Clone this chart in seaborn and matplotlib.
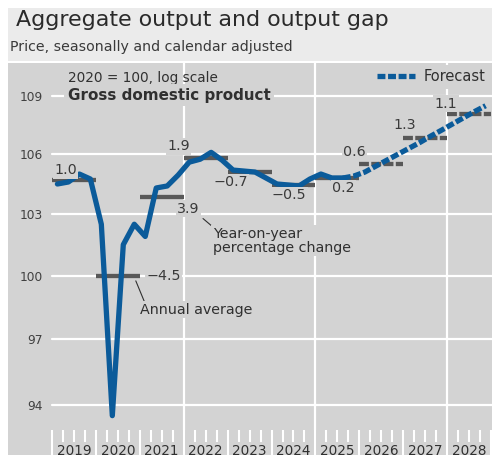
import numpy as np
import pandas as pd
import matplotlib
matplotlib.use("Agg")
import matplotlib.pyplot as plt
from matplotlib.patches import Rectangle
from matplotlib.ticker import NullLocator, NullFormatter, FixedLocator
import seaborn as sns

# ---------------- data ----------------
years = list(range(2019, 2029))
# quarterly GDP index (2020 = 100), 2019Q1 .. 2025Q3
gdp_actual = [104.5, 104.6, 105.0, 104.75,
              102.5, 93.5, 101.5, 102.5,
              101.9, 104.3, 104.4, 104.95,
              105.6, 105.75, 106.1, 105.7,
              105.2, 105.15, 105.1, 104.8,
              104.5, 104.45, 104.4, 104.75,
              105.0, 104.8, 104.8]
# forecast, 2025Q3 .. 2028Q4
gdp_forecast = [104.8, 104.9,
                105.1, 105.4, 105.7, 106.0,
                106.3, 106.6, 106.93, 107.24,
                107.56, 107.88, 108.2, 108.5]
annual_avg = [104.7, 100.0, 103.85, 105.8, 105.1, 104.45, 104.8, 105.5, 106.83, 108.06]
annual_change = ["1.0", "\u22124.5", "3.9", "1.9", "\u22120.7", "\u22120.5", "0.2", "0.6", "1.3", "1.1"]
first_forecast_year = 2026
y_ticks = [94, 97, 100, 103, 106, 109]

# ---------------- style ----------------
BLUE = "#0b5b9a"
GREY_BAR = "#585858"
PLOT_BG = "#d3d3d3"
BAND_BG = "#ebebeb"
TXT = "#2a2a2a"

sns.set_theme(style="white")
plt.rcParams['font.family'] = ['DejaVu Sans']

W, H = 503, 463
fig = plt.figure(figsize=(W / 100, H / 100), dpi=100)
fig.patch.set_facecolor("white")
fig.patches.append(Rectangle((8 / W, 1 - 61 / H), 484 / W, 53 / H,
                             transform=fig.transFigure, facecolor=BAND_BG,
                             edgecolor="none", zorder=0))
fig.text(16 / W, 1 - 20 / H, "Aggregate output and output gap", fontsize=15.9,
         color=TXT, va="center", ha="left")
fig.text(10 / W, 1 - 47 / H, "Price, seasonally and calendar adjusted", fontsize=10.2,
         color="#3a3a3a", va="center", ha="left")

ax = fig.add_axes([8 / W, 8 / H, 484 / W, 392 / H])
ax.set_facecolor(PLOT_BG)
for s in ax.spines.values():
    s.set_visible(False)
ax.set_yscale("log")

# ---------------- frames ----------------
q_pos = [y + (q - 0.5) / 4 for y in years for q in range(1, 5)]
n_act = len(gdp_actual)
df_act = pd.DataFrame({"t": q_pos[:n_act], "gdp": gdp_actual})
df_fc = pd.DataFrame({"t": q_pos[n_act - 1:n_act - 1 + len(gdp_forecast)], "gdp": gdp_forecast})

# ---------------- grid ----------------
for v in y_ticks:
    ax.axhline(v, xmin=0.091, xmax=1.0, color="white", lw=1.6, zorder=1)
for yv in [2022, 2025, 2028]:
    ax.axvline(yv, ymin=0.064, ymax=1.0, color="white", lw=1.6, zorder=1)

# ---------------- annual averages ----------------
for yr, avg in zip(years, annual_avg):
    if yr >= first_forecast_year:
        ax.plot([yr, yr + 1], [avg, avg], color=GREY_BAR, lw=3.1,
                linestyle=(0, (2.3, 0.55)), solid_capstyle="butt",
                dash_capstyle="butt", zorder=3)
    else:
        ax.plot([yr, yr + 1], [avg, avg], color=GREY_BAR, lw=3.1,
                solid_capstyle="butt", zorder=3)

# ---------------- GDP lines ----------------
sns.lineplot(data=df_act, x="t", y="gdp", ax=ax, color=BLUE, lw=3.8,
             solid_joinstyle="round", solid_capstyle="round", zorder=4)
sns.lineplot(data=df_fc, x="t", y="gdp", ax=ax, color=BLUE, lw=3.8,
             label="Forecast", zorder=4)
fc_line = ax.lines[-1]
fc_line.set_dashes([1.5, 0.5])
fc_line.set_dash_capstyle("butt")

# ---------------- axes ----------------
ax.set_xlim(2018.0, 2029.02)
ax.set_ylim(91.75, 110.75)
ax.set_xlabel("")
ax.set_ylabel("")
ax.yaxis.set_major_locator(FixedLocator(y_ticks))
ax.yaxis.set_minor_locator(NullLocator())
ax.yaxis.set_minor_formatter(NullFormatter())
ax.set_yticklabels([str(v) for v in y_ticks])
ax.tick_params(axis="y", which="both", length=0, pad=-25, labelsize=8.8,
               labelcolor="#404040")
ax.spines["bottom"].set_position(("axes", 0.0638))
ax.set_xticks(list(range(2019, 2030)))
ax.set_xticklabels([])
ax.set_xticks([y + q / 4 for y in years for q in range(1, 4)], minor=True)
ax.tick_params(axis="x", which="both", bottom=True, top=False, direction="out",
               color="white", width=1.5)
ax.tick_params(axis="x", which="major", length=19)
ax.tick_params(axis="x", which="minor", length=8.6)
for yr in years:
    ax.text(yr + 0.5, 0.011, str(yr), transform=ax.get_xaxis_transform(),
            ha="center", va="center", fontsize=9.8, color="#303030", zorder=5)

# ---------------- labels ----------------
FS = 10.3
box = dict(facecolor=PLOT_BG, edgecolor="none", pad=1.0)
label_pos = {  # (x, y) of label left edge / centre
    2019: (2019.05, 105.2), 2020: (2021.15, 100.0), 2021: (2021.85, 103.27),
    2022: (2021.62, 106.4), 2023: (2022.67, 104.6), 2024: (2024.01, 103.93),
    2025: (2025.38, 104.28), 2026: (2025.63, 106.1), 2027: (2026.77, 107.49),
    2028: (2027.72, 108.6),
}
for yr, lab in zip(years, annual_change):
    lx, ly = label_pos[yr]
    ax.text(lx, ly, lab, ha="left", va="center", fontsize=FS, color="#3a3a3a",
            bbox=box, zorder=5)

ax.text(2019.36, 109.95, "2020 = 100, log scale", ha="left", va="center",
        fontsize=9.8, color="#303030", zorder=5)
ax.text(2019.36, 109.05, "Gross domestic product", ha="left", va="center",
        fontsize=10.9, fontweight="bold", color="#303030",
        bbox=dict(facecolor=PLOT_BG, edgecolor="none", pad=2.5), zorder=5)

ax.annotate("Annual average", xy=(2020.91, 99.75), xytext=(2021.0, 98.38),
            ha="left", va="center", fontsize=FS, color="#303030",
            arrowprops=dict(arrowstyle="-", color="#303030", lw=0.8,
                            shrinkA=0, shrinkB=0, relpos=(0.05, 0.9)),
            bbox=dict(facecolor=PLOT_BG, edgecolor="none", pad=1.0), zorder=5)
ax.annotate("Year-on-year\npercentage change", xy=(2022.44, 102.78),
            xytext=(2022.66, 101.69), ha="left", va="center", fontsize=FS,
            color="#303030", linespacing=1.0,
            arrowprops=dict(arrowstyle="-", color="#303030", lw=0.8,
                            shrinkA=0, shrinkB=0, relpos=(0.0, 1.0)),
            bbox=dict(facecolor=PLOT_BG, edgecolor="none", pad=1.0), zorder=5)

leg = ax.legend(loc="upper right", bbox_to_anchor=(0.995, 0.995), frameon=True,
                fontsize=10.5, handlelength=2.6, handletextpad=0.55,
                borderpad=0.3, borderaxespad=0.0)
leg.get_frame().set_facecolor(PLOT_BG)
leg.get_frame().set_edgecolor("none")
leg.get_frame().set_alpha(1.0)
for t in leg.get_texts():
    t.set_color("#303030")

fig.savefig("out.png", dpi=100, facecolor=fig.get_facecolor())
